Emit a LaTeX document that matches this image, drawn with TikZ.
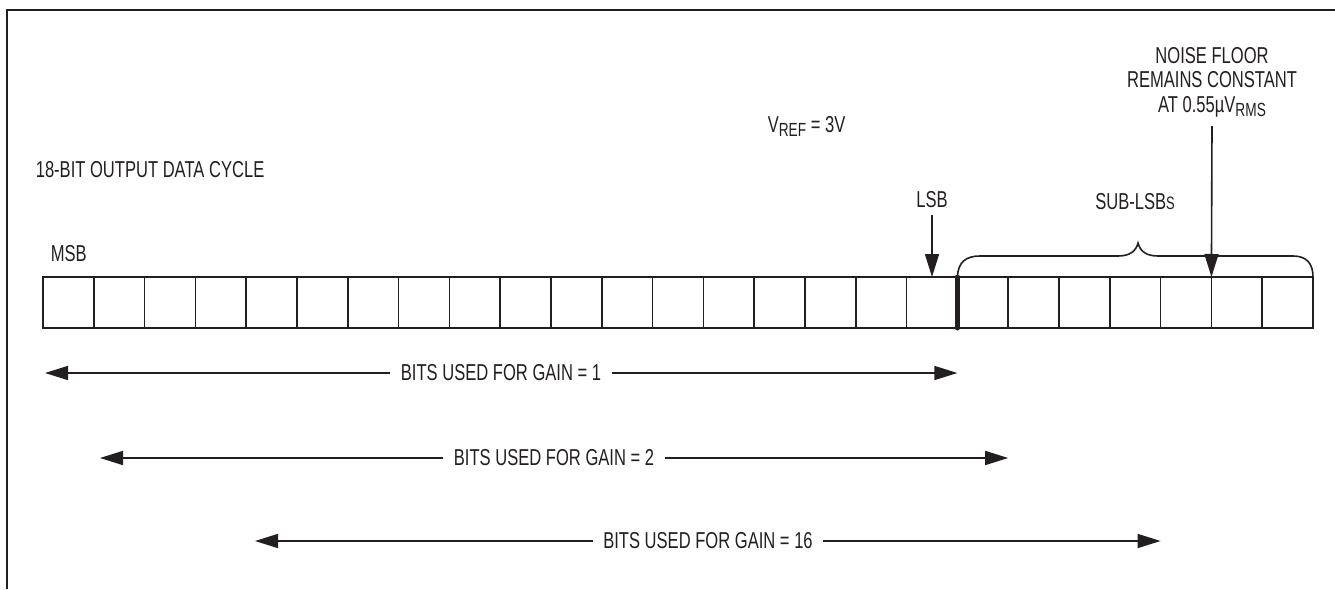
\documentclass[tikz,border=0pt]{standalone}
\usepackage{fontspec}
\setmainfont{Liberation Sans}[FakeStretch=0.72]
\usetikzlibrary{arrows.meta}
\definecolor{ink}{HTML}{231F20}
\begin{document}
\begin{tikzpicture}[x=1pt,y=-1pt, line width=1.6pt, color=ink,
  lbl/.style={font=\fontsize{23}{24.5}\selectfont, inner sep=0pt, text=ink},
  cell/.style={draw=ink, minimum width=50.8pt, minimum height=51pt, inner sep=0pt, outer sep=0pt, line width=1.6pt},
  tip/.style={-{Triangle[length=23pt,width=14pt]}},
  gainlbl/.style={lbl, fill=white, inner xsep=10pt}]
\useasboundingbox (0,0) rectangle (1335,589);
% frame
\draw[line width=2.2pt] (7,589) -- (7,10) -- (1335,10);
% cells
\foreach \i in {1,...,25}
  \node[cell] (c\i) at ({43+(\i-0.5)*50.8}, 302.5) {};
% thick LSB boundary
\draw[line width=5pt, line cap=round] (c18.north east) -- (c18.south east);
% texts
\node[lbl, anchor=west] (title) at (35,170) {18-BIT OUTPUT DATA CYCLE};
\node[lbl, anchor=west] (msb) at (50,254) {MSB};
\node[lbl, anchor=west] (vref) at (767,126) {V\raisebox{-4pt}{\fontsize{19}{19}\selectfont REF} = 3V};
\node[lbl, inner sep=6pt] (lsb) at (932,200) {LSB};
\node[lbl] (sublsb) at (1135,202) {SUB-LSB{\fontsize{18}{18}\selectfont S}};
\node[lbl, align=center, inner sep=0pt] (nf) at (1212,82) {NOISE FLOOR\\REMAINS CONSTANT\\AT 0.55µV\raisebox{-4pt}{\fontsize{19}{19}\selectfont RMS}};
\coordinate (nftop) at (1212,126);
% pointer arrows
\draw[tip] (lsb.south) -- (c18.north -| lsb.south);
\draw[tip] (nftop) -- (c23.north east);
% brace over sub-LSBs
\draw (c18.north east) .. controls (958,262) and (966,256) .. (980,256)
  -- (1118,256) .. controls (1130,256) and (1136,251) .. (1138,243)
  .. controls (1140,251) and (1146,256) .. (1158,256)
  -- (1293,256) .. controls (1306,256) and (1313,263) .. (c25.north east);
% gain arrows
\coordinate (g1l) at (45,373);
\coordinate (g1r) at (c18.east |- g1l);
\node[gainlbl] (g1) at (501,373) {BITS USED FOR GAIN = 1};
\draw[tip] (g1) -- (g1l);
\draw[tip] (g1) -- (g1r);
\coordinate (g2l) at (100,458);
\coordinate (g2r) at (c19.east |- g2l);
\node[gainlbl] (g2) at (554,458) {BITS USED FOR GAIN = 2};
\draw[tip] (g2) -- (g2l);
\draw[tip] (g2) -- (g2r);
\coordinate (g3l) at (255,541);
\coordinate (g3r) at (c22.east |- g3l);
\node[gainlbl] (g3) at (708,541) {BITS USED FOR GAIN = 16};
\draw[tip] (g3) -- (g3l);
\draw[tip] (g3) -- (g3r);
\end{tikzpicture}
\end{document}
